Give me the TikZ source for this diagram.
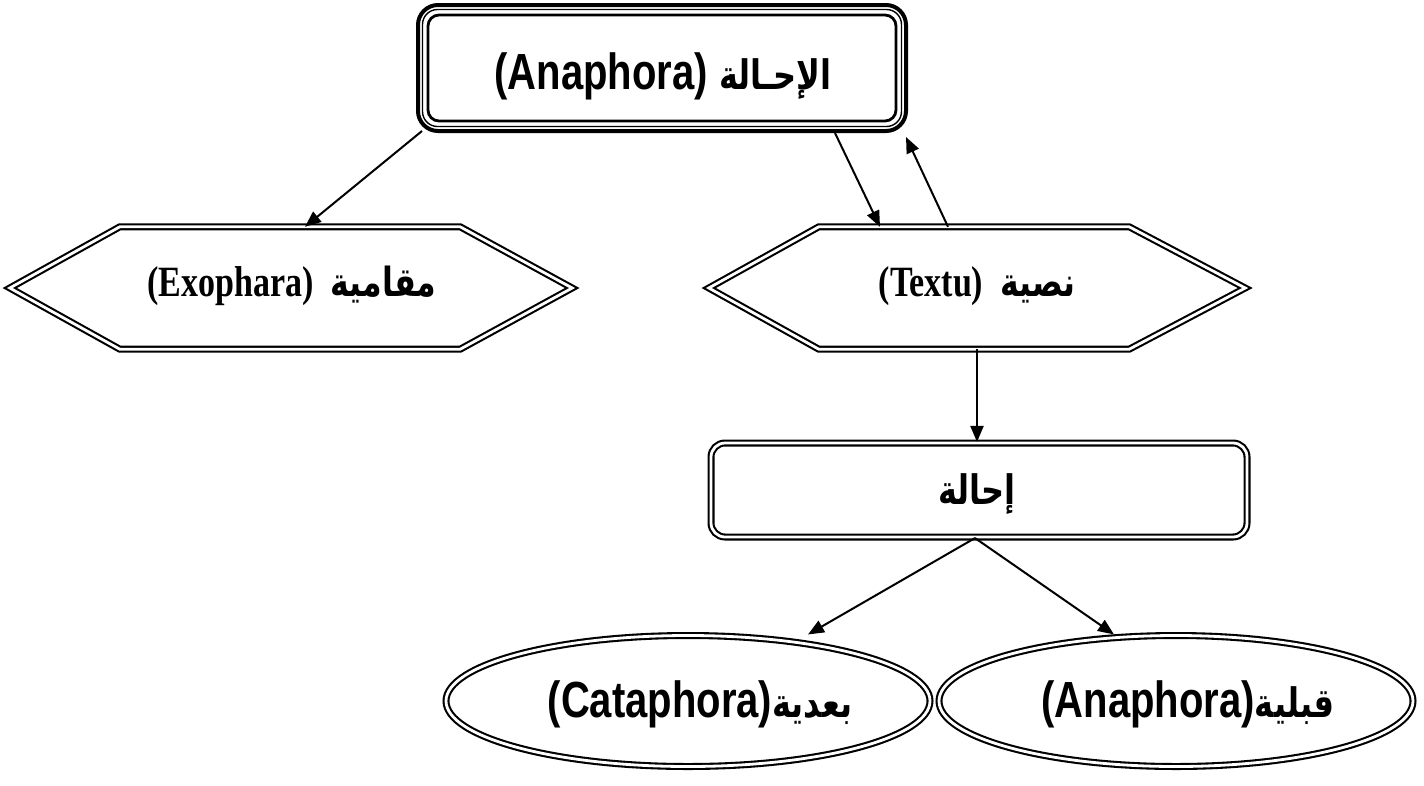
\documentclass[tikz,border=0pt]{standalone}
\usepackage{graphicx}
\usepackage{fontspec}
\setmainfont{Liberation Serif}
\newfontfamily\arialfont{Liberation Sans}
\newfontfamily\arabicfont[Script=Arabic,Scale=0.8]{DejaVu Sans}
\newfontfamily\arabicserif[Script=Arabic,Scale=0.93]{DejaVu Sans}
\TeXXeTstate=1
\usetikzlibrary{calc,shapes.geometric,arrows.meta}

% labels are set a little taller than wide
\newcommand\tallertext[1]{\scalebox{1}[1.27]{#1}}

\tikzset{
  dbl/.style={draw, line width=2.1pt, double=white, double distance=2.8pt},
  arr/.style={line width=2pt, -{Triangle[length=16pt,width=13pt]}},
  sanslabel/.style={font=\arialfont\bfseries\fontsize{40}{46}\selectfont, inner sep=0pt},
  seriflabel/.style={font=\bfseries\fontsize{34}{40}\selectfont, inner sep=0pt},
  hexnode/.style={rectangle, inner sep=0pt, minimum height=122pt},
}

\begin{document}
\begin{tikzpicture}[x=1pt, y=-1pt]
  \useasboundingbox[fill=white] (0,0) rectangle (1424,785);

  % main concept box with a triple border
  \node[draw, line width=4pt, rounded corners=20pt, minimum width=488pt,
        minimum height=126pt, inner sep=0pt] (top) at (662,68) {};
  \draw[line width=1.4pt, rounded corners=15pt]
       ($(top.north west)+(6.5,6.5)$) rectangle ($(top.south east)+(-6.5,-6.5)$);
  \draw[line width=2.8pt, rounded corners=11pt]
       ($(top.north west)+(12,12)$) rectangle ($(top.south east)+(-12,-12)$);
  \node[sanslabel] (toptext) at (663,76)
       {\tallertext{\beginR{\arabicfont الإحـالة} \beginL(Anaphora)\endL\endR}};

  % the two kinds of reference, as hexagons
  \node[hexnode, minimum width=562pt] (lhex) at (291,288) {};
  \draw[dbl] (lhex.west) -- ([xshift=110pt]lhex.north west)
       -- ([xshift=-112pt]lhex.north east) -- (lhex.east)
       -- ([xshift=-112pt]lhex.south east) -- ([xshift=110pt]lhex.south west)
       -- cycle;
  \node[seriflabel] (lhextext) at (292,286)
       {\tallertext{\beginR{\arabicserif مقامية}\ \ \beginL(Exophara)\endL\endR}};

  \node[hexnode, minimum width=536pt] (rhex) at (977,288) {};
  \draw[dbl] (rhex.west) -- ([xshift=110pt]rhex.north west)
       -- ([xshift=-116pt]rhex.north east) -- (rhex.east)
       -- ([xshift=-116pt]rhex.south east) -- ([xshift=110pt]rhex.south west)
       -- cycle;
  \node[seriflabel] (rhextext) at (977,286)
       {\tallertext{\beginR{\arabicserif نصية}\ \ \beginL(Textu)\endL\endR}};

  % textual reference box
  \node[dbl, rounded corners=14pt, minimum width=536pt, minimum height=94pt,
        inner sep=0pt] (mid) at (979,490) {};
  \node[sanslabel] (midtext) at (977,494)
       {\tallertext{\beginR{\arabicfont إحالة}\endR}};

  % its two directions
  \node[dbl, ellipse, minimum width=484pt, minimum height=131pt, inner sep=0pt]
       (lell) at (688,701) {};
  \node[sanslabel] (lelltext) at (700,704)
       {\tallertext{\beginR{\arabicfont بعدية}\beginL(Cataphora)\endL\endR}};
  \node[dbl, ellipse, minimum width=474pt, minimum height=131pt, inner sep=0pt]
       (rell) at (1176,701) {};
  \node[sanslabel] (relltext) at (1188,704)
       {\tallertext{\beginR{\arabicfont قبلية}\beginL(Anaphora)\endL\endR}};

  % connectors
  \draw[arr] ([xshift=6pt,yshift=2pt]top.south west) -- ([xshift=14pt]lhex.north);
  \draw[arr] ([xshift=173pt]top.south) -- ([xshift=-97pt]rhex.north);
  \draw[arr] ([xshift=-29pt]rhex.north) -- ([xshift=-2pt,yshift=-4pt]top.south east);
  \draw[arr] (rhex.south) -- (rhex.south |- mid.north);
  \draw[arr] ([xshift=-4pt]mid.south) -- ([xshift=120pt]lell.north);
  \draw[arr] ([xshift=-4pt]mid.south) -- ([xshift=-62pt]rell.north);
\end{tikzpicture}
\end{document}
